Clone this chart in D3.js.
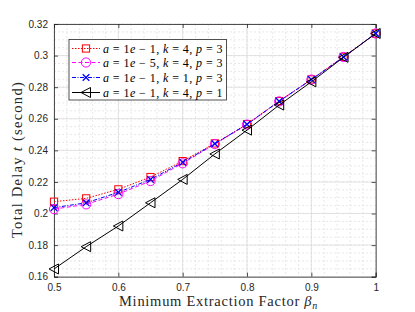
<!DOCTYPE html>
<html>
<head>
<meta charset="utf-8">
<script src="https://cdn.jsdelivr.net/npm/d3@7"></script>
<style>
  body { margin: 0; background: #fff; }
  svg { display: block; }
</style>
</head>
<body>
<div id="chart"></div>
<script>

// x values (beta_n)
var betas = [0.5, 0.55, 0.6, 0.65, 0.7, 0.75, 0.8, 0.85, 0.9, 0.95, 1];

// delay values
var red_vals = [0.2075, 0.2096, 0.2153, 0.2231, 0.2332, 0.2444, 0.2566, 0.2712, 0.2849, 0.2992, 0.314];
var mag_vals = [0.2028, 0.2058, 0.2123, 0.2206, 0.2318, 0.2440, 0.2563, 0.2710, 0.2848, 0.2991, 0.314];
var blue_vals = [0.2037, 0.2068, 0.2134, 0.2216, 0.2324, 0.2442, 0.2565, 0.2711, 0.2848, 0.2991, 0.314];
var black_vals = [0.1649, 0.1790, 0.1921, 0.2068, 0.2216, 0.2377, 0.2528, 0.2687, 0.2834, 0.2989, 0.314];

var x_ticks = [0.5, 0.6, 0.7, 0.8, 0.9, 1];
var y_ticks = [0.16, 0.18, 0.2, 0.22, 0.24, 0.26, 0.28, 0.3, 0.32];

// legend params: a exponent, k, p
var legend_a = ["1", "5", "1", "1"];
var legend_k = ["4", "4", "1", "4"];
var legend_p = ["3", "3", "3", "1"];

var width = 415, height = 312;
var pLeft = 54, pRight = 375.7, pTop = 24, pBottom = 276.7;
var serif = "Liberation Serif, Times New Roman, serif";

var svg = d3.select("#chart").append("svg")
    .attr("width", width)
    .attr("height", height);

var xScale = d3.scaleLinear().domain([0.5, 1]).range([pLeft, pRight]);
var yScale = d3.scaleLinear().domain([0.16, 0.32]).range([pBottom, pTop]);

// spread letters so a text gets the wider look of the latex font
function fitWidth(t, target) {
    var n = t.text().length;
    var w = t.node().getComputedTextLength();
    t.style("letter-spacing", ((target - w) / n) + "px");
}

// minor grid
var xMinor = d3.range(0.5, 1.0001, 0.02);
var yMinor = d3.range(0.16, 0.32001, 0.005);
var grid = svg.append("g");
grid.selectAll(".vmin").data(xMinor).enter().append("line")
    .attr("x1", d => xScale(d)).attr("x2", d => xScale(d))
    .attr("y1", pTop).attr("y2", pBottom)
    .attr("stroke", "#e2e2e2").attr("stroke-width", 0.8)
    .attr("stroke-dasharray", "2,2");
grid.selectAll(".hmin").data(yMinor).enter().append("line")
    .attr("y1", d => yScale(d)).attr("y2", d => yScale(d))
    .attr("x1", pLeft).attr("x2", pRight)
    .attr("stroke", "#e2e2e2").attr("stroke-width", 0.8)
    .attr("stroke-dasharray", "2,2");
// major grid
grid.selectAll(".vmaj").data(x_ticks).enter().append("line")
    .attr("x1", d => xScale(d)).attr("x2", d => xScale(d))
    .attr("y1", pTop).attr("y2", pBottom)
    .attr("stroke", "#dcdcdc").attr("stroke-width", 0.8);
grid.selectAll(".hmaj").data(y_ticks).enter().append("line")
    .attr("y1", d => yScale(d)).attr("y2", d => yScale(d))
    .attr("x1", pLeft).attr("x2", pRight)
    .attr("stroke", "#dcdcdc").attr("stroke-width", 0.8);

// axes (ticks inward)
var fmt = d3.format("~g");
var axB = svg.append("g").attr("transform", "translate(0," + pBottom + ")")
    .call(d3.axisBottom(xScale).tickValues(x_ticks).tickSize(-4).tickPadding(7).tickFormat(fmt));
var axT = svg.append("g").attr("transform", "translate(0," + pTop + ")")
    .call(d3.axisTop(xScale).tickValues(x_ticks).tickSize(-4).tickFormat(""));
var axL = svg.append("g").attr("transform", "translate(" + pLeft + ",0)")
    .call(d3.axisLeft(yScale).tickValues(y_ticks).tickSize(-4).tickPadding(6).tickFormat(fmt));
var axR = svg.append("g").attr("transform", "translate(" + pRight + ",0)")
    .call(d3.axisRight(yScale).tickValues(y_ticks).tickSize(-4).tickFormat(""));

[axB, axT, axL, axR].forEach(function (a) {
    a.select(".domain").attr("stroke", "#262626").attr("stroke-width", 0.8);
    a.selectAll(".tick line").attr("stroke", "#262626").attr("stroke-width", 0.8);
    a.selectAll("text").attr("fill", "#262626")
        .style("font-family", "Liberation Sans, Arial, sans-serif")
        .style("font-size", "10px");
});

// series
var series = [
    { vals: red_vals, color: "#ff0000", dash: "1.5,1.5", marker: "square" },
    { vals: mag_vals, color: "#ff00ff", dash: "4,2.5", marker: "circle" },
    { vals: blue_vals, color: "#0000ff", dash: "4,1.5,1,1.5", marker: "x" },
    { vals: black_vals, color: "#000000", dash: null, marker: "tri" }
];

function drawMarker(g, type, cx, cy, color) {
    if (type == "square") {
        g.append("rect").attr("x", cx - 3.6).attr("y", cy - 3.6)
            .attr("width", 7.2).attr("height", 7.2)
            .attr("fill", "none").attr("stroke", color).attr("stroke-width", 1);
    } else if (type == "circle") {
        g.append("circle").attr("cx", cx).attr("cy", cy).attr("r", 4.6)
            .attr("fill", "none").attr("stroke", color).attr("stroke-width", 1);
    } else if (type == "x") {
        var s = 3.3;
        g.append("path")
            .attr("d", "M" + (cx - s) + "," + (cy - s) + "L" + (cx + s) + "," + (cy + s) +
                "M" + (cx - s) + "," + (cy + s) + "L" + (cx + s) + "," + (cy - s))
            .attr("stroke", color).attr("stroke-width", 1.3).attr("fill", "none");
    } else {
        var r = 5;
        g.append("path")
            .attr("d", "M" + (cx - r) + "," + cy + "L" + (cx + r * 0.9) + "," + (cy - r) +
                "L" + (cx + r * 0.9) + "," + (cy + r) + "Z")
            .attr("stroke", color).attr("stroke-width", 1).attr("fill", "none");
    }
}

var line = d3.line().x(d => xScale(d[0])).y(d => yScale(d[1]));
var plot = svg.append("g");
// drawn in order, last one on top (like matlab)
series.forEach(function (s) {
    var pts = betas.map((b, i) => [b, s.vals[i]]);
    var g = plot.append("g");
    g.append("path").attr("d", line(pts))
        .attr("fill", "none").attr("stroke", s.color).attr("stroke-width", 1)
        .attr("stroke-dasharray", s.dash);
    pts.forEach(function (p) {
        drawMarker(g, s.marker, xScale(p[0]), yScale(p[1]), s.color);
    });
});

// legend
var leg = svg.append("g");
var lx = 69, ly = 39.5, lw = 157.5, lh = 60.5;
leg.append("rect").attr("x", lx).attr("y", ly).attr("width", lw).attr("height", lh)
    .attr("fill", "#fff").attr("stroke", "#262626").attr("stroke-width", 0.8);
var rowY = [48.5, 62.5, 77.5, 92.5];
series.forEach(function (s, i) {
    var y = rowY[i];
    leg.append("line").attr("x1", 72).attr("x2", 100).attr("y1", y).attr("y2", y)
        .attr("stroke", s.color).attr("stroke-width", 1)
        .attr("stroke-dasharray", s.dash);
    drawMarker(leg, s.marker, 86, y, s.color);
    var t = leg.append("text").attr("x", 103).attr("y", y + 4)
        .style("font-family", serif)
        .style("font-size", "12px").attr("fill", "#000");
    var parts = [
        ["a", true], [" = 1", false], ["e", true], [" \u2212 " + legend_a[i] + ", ", false],
        ["k", true], [" = " + legend_k[i] + ", ", false],
        ["p", true], [" = " + legend_p[i], false]
    ];
    parts.forEach(function (p) {
        t.append("tspan").text(p[0]).style("font-style", p[1] ? "italic" : "normal");
    });
    fitWidth(t, 120);
});

// axis labels
var xl = svg.append("text").attr("x", 218.5).attr("y", 306)
    .attr("text-anchor", "middle")
    .style("font-family", serif)
    .style("font-size", "14.5px").attr("fill", "#262626");
xl.append("tspan").text("Minimum Extraction Factor ");
xl.append("tspan").text("\u03B2").style("font-style", "italic");
xl.append("tspan").text("n").style("font-style", "italic").style("font-size", "10px").attr("dy", 3);
fitWidth(xl, 199);

var yl = svg.append("text")
    .attr("transform", "translate(22,159.5) rotate(-90)")
    .attr("text-anchor", "middle")
    .style("font-family", serif)
    .style("font-size", "14.5px").attr("fill", "#262626");
yl.append("tspan").text("Total Delay ");
yl.append("tspan").text("t").style("font-style", "italic");
yl.append("tspan").text(" (second)");
fitWidth(yl, 157);

</script>
</body>
</html>
